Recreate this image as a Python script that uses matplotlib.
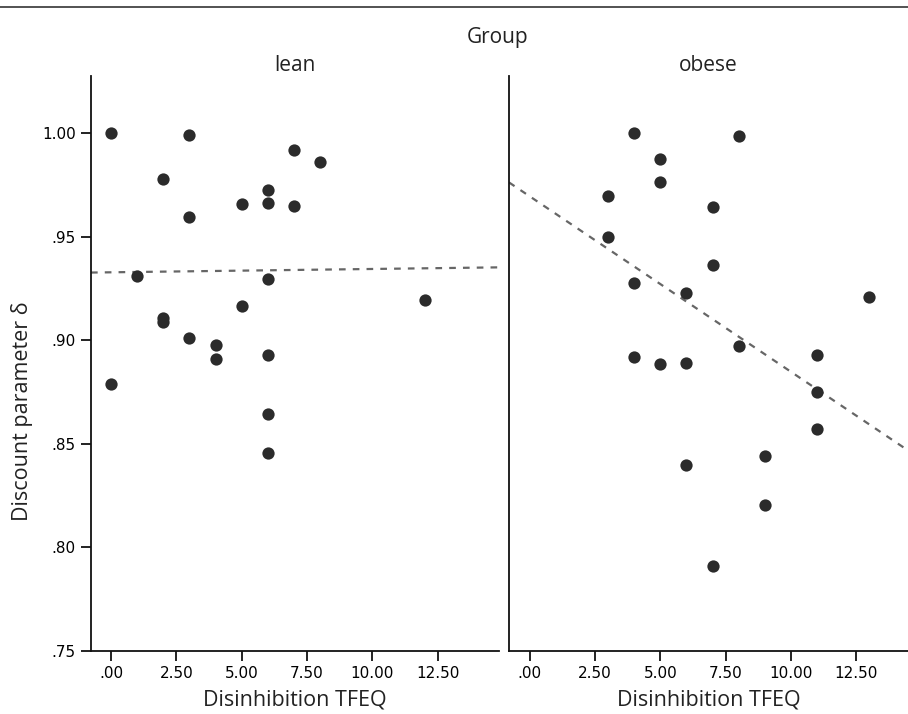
import numpy as np
import matplotlib
matplotlib.use('Agg')
import matplotlib.pyplot as plt
from matplotlib.lines import Line2D

# lean group
lean_x=[0,3,7,8,2,6,5,6,7,3,1,6,12,5,2,2,3,4,4,6,0,6,6]
lean_y=[1.000,0.999,0.9918,0.9862,0.9778,0.9725,0.9656,0.9661,0.9648,0.9593,0.9311,0.9294,0.9194,0.9165,0.9105,0.9090,0.9011,0.8977,0.8909,0.8927,0.8790,0.8642,0.8457]

# obese group
obese_x=[4,8,5,5,3,7,3,7,4,6,13,8,11,4,5,6,11,11,6,9,9,7]
obese_y=[1.000,0.9984,0.9876,0.9763,0.9697,0.9641,0.9497,0.9363,0.9276,0.9229,0.9210,0.8972,0.8927,0.8920,0.8885,0.8891,0.8751,0.8570,0.8399,0.8440,0.8205,0.7909]

yticks=[0.75,0.80,0.85,0.90,0.95,1.00]
ytick_labels=['.75','.80','.85','.90','.95','1.00']
xticks=[0,2.5,5,7.5,10,12.5]
xtick_labels=['.00','2.50','5.00','7.50','10.00','12.50']

label_font='Open Sans'
dot_color='#2b2b2b'

fig=plt.figure(figsize=(9.08,7.14),dpi=100)
ax1=fig.add_axes([91/908,63/714,408/908,575/714])
ax2=fig.add_axes([509/908,63/714,399/908,575/714])

panels=[(ax1,lean_x,lean_y,(-0.77,14.85),'lean'),(ax2,obese_x,obese_y,(-0.79,14.48),'obese')]
for ax,xs,ys,xl,name in panels:
    ax.scatter(xs,ys,s=78,color=dot_color,zorder=3,linewidths=0)
    b,a=np.polyfit(xs,ys,1)
    xx=np.array(xl)
    ax.plot(xx,a+b*xx,color='#666666',lw=1.6,dashes=(3,3.2),zorder=2)
    ax.set_xlim(*xl)
    ax.set_ylim(0.75,1.0275)
    ax.set_xticks(xticks)
    ax.set_xticklabels(xtick_labels,fontsize=11,family='DejaVu Sans')
    ax.spines['top'].set_visible(False)
    ax.spines['right'].set_visible(False)
    for sp in ('left','bottom'):
        ax.spines[sp].set_linewidth(1.3)
        ax.spines[sp].set_color('#111111')
    ax.tick_params(axis='both',direction='out',length=7,width=1.3,color='#111111',pad=4)
    ax.set_xlabel('Disinhibition TFEQ',fontsize=15.5,family=label_font,labelpad=6,color='#222222')
    ax.set_title(name,fontsize=15,family=label_font,pad=2,color='#222222')

ax1.set_yticks(yticks)
ax1.set_yticklabels(ytick_labels,fontsize=11,family='DejaVu Sans')
ax1.set_ylabel('Discount parameter δ',fontsize=15.5,family=label_font,color='#222222')
ax1.yaxis.set_label_coords(-0.142,0.417)
ax2.set_yticks([])

fig.text(498/908,1-37/714,'Group',fontsize=15,family=label_font,ha='center',va='center',color='#222222')
fig.add_artist(Line2D([0,1],[1-7/714,1-7/714],color='#444444',lw=1.3,transform=fig.transFigure))

fig.savefig('out.png',dpi=100)
